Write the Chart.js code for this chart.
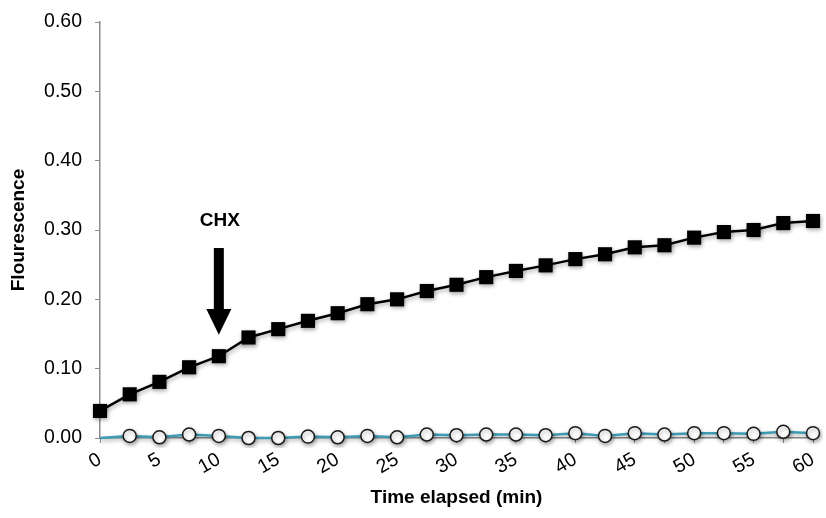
<!DOCTYPE html>
<html>
<head>
<meta charset="utf-8">
<script src="https://cdn.jsdelivr.net/npm/chart.js@4"></script>
<style>
  html, body { margin: 0; padding: 0; background: #fff; }
  #wrap { width: 826px; height: 518px; }
</style>
</head>
<body>
<div id="wrap"><canvas id="fluoChart"></canvas></div>
<script>
// Zeitpunkte (min), alle 2.5 min gemessen
const times = ['0', '2.5', '5', '7.5', '10', '12.5', '15', '17.5', '20', '22.5', '25', '27.5', '30',
               '32.5', '35', '37.5', '40', '42.5', '45', '47.5', '50', '52.5', '55', '57.5', '60'];

// schwarze Quadrate
const treated = [0.039, 0.063, 0.081, 0.102, 0.118, 0.145, 0.157, 0.169, 0.180, 0.193, 0.200, 0.212, 0.221,
                 0.232, 0.241, 0.249, 0.258, 0.265, 0.275, 0.278, 0.289, 0.297, 0.300, 0.310, 0.313];

// offene Kreise (Kontrolle)
const control = [0.000, 0.003, 0.001, 0.005, 0.003, 0.000, 0.000, 0.002, 0.001, 0.003, 0.001, 0.005, 0.004,
                 0.005, 0.005, 0.004, 0.007, 0.003, 0.007, 0.005, 0.007, 0.007, 0.006, 0.009, 0.007];

// CHX-Zugabe bei 10 min (Index 4)
const chxIndex = 4;
const chxLabel = 'CHX';
const chxText = 0.313, chxTop = 0.274, chxHead = 0.186, chxTip = 0.149;

const axisGray = '#8c8c8c';
const fontFam = '"Liberation Sans", Arial, sans-serif';

// Schatten wie in Excel
const shadowPlugin = {
    id: 'shadow',
    beforeDatasetDraw(chart) {
        const ctx = chart.ctx;
        ctx.save();
        ctx.shadowColor = 'rgba(0,0,0,0.35)';
        ctx.shadowBlur = 4;
        ctx.shadowOffsetX = 1;
        ctx.shadowOffsetY = 2;
    },
    afterDatasetDraw(chart) {
        chart.ctx.restore();
    }
};

// Pfeil und Beschriftung
const arrowPlugin = {
    id: 'chxArrow',
    afterDatasetsDraw(chart) {
        const ctx = chart.ctx;
        const x = chart.scales.x.getPixelForValue(chxIndex);
        const yS = chart.scales.y;
        const top = yS.getPixelForValue(chxTop);
        const head = yS.getPixelForValue(chxHead);
        const tip = yS.getPixelForValue(chxTip);
        ctx.save();
        ctx.fillStyle = '#000';
        ctx.fillRect(x - 5, top, 10, head - top + 1);
        ctx.beginPath();
        ctx.moveTo(x - 12.5, head);
        ctx.lineTo(x + 12.5, head);
        ctx.lineTo(x, tip);
        ctx.closePath();
        ctx.fill();
        ctx.font = 'bold 19px ' + fontFam;
        ctx.textAlign = 'center';
        ctx.textBaseline = 'middle';
        ctx.fillText(chxLabel, x + 1, yS.getPixelForValue(chxText));
        ctx.restore();
    }
};

const ctx = document.getElementById('fluoChart').getContext('2d');
new Chart(ctx, {
    type: 'line',
    data: {
        labels: times,
        datasets: [
            {
                label: 'Kontrolle',
                data: control,
                borderColor: '#3f9bb4',
                borderWidth: 2.5,
                pointStyle: 'circle',
                pointRadius: control.map((v, i) => i === 0 ? 0 : 6.5),
                pointBackgroundColor: '#fff',
                pointBorderColor: '#1a1a1a',
                pointBorderWidth: 1.5,
                tension: 0,
                clip: 10
            },
            {
                label: 'CHX',
                data: treated,
                borderColor: '#000',
                borderWidth: 2.5,
                pointStyle: 'rect',
                pointRadius: 10,
                pointBackgroundColor: '#000',
                pointBorderColor: '#000',
                pointBorderWidth: 0,
                tension: 0,
                clip: 12
            }
        ]
    },
    options: {
        responsive: true,
        maintainAspectRatio: false,
        animation: false,
        layout: { padding: { top: 22, right: 13, left: 0, bottom: 0 } },
        plugins: {
            legend: { display: false },
            tooltip: { enabled: false }
        },
        scales: {
            x: {
                offset: false,
                afterFit(scale) {
                    scale.height = 80;
                    scale.paddingLeft = 0;
                    scale.paddingRight = 0;
                },
                grid: {
                    drawOnChartArea: false,
                    drawTicks: true,
                    tickLength: 5,
                    color: axisGray
                },
                border: { color: axisGray, width: 1.5 },
                ticks: {
                    autoSkip: false,
                    minRotation: 30,
                    maxRotation: 30,
                    color: '#000',
                    padding: 5,
                    font: { family: fontFam, size: 19.5 },
                    callback: (v, i) => i % 2 ? '' : times[i]
                },
                title: {
                    display: true,
                    text: 'Time elapsed (min)',
                    color: '#000',
                    padding: { top: 4, bottom: 9 },
                    font: { family: fontFam, size: 19, weight: 'bold' }
                }
            },
            y: {
                min: 0,
                max: 0.6,
                afterFit(scale) {
                    scale.width = 100;
                    scale.paddingTop = 0;
                    scale.paddingBottom = 0;
                },
                grid: {
                    drawOnChartArea: false,
                    drawTicks: true,
                    tickLength: 5,
                    color: axisGray
                },
                border: { color: axisGray, width: 1.5 },
                ticks: {
                    stepSize: 0.1,
                    color: '#000',
                    padding: 13,
                    font: { family: fontFam, size: 19.5 },
                    callback: v => v.toFixed(2)
                },
                title: {
                    display: true,
                    text: 'Flourescence',
                    color: '#000',
                    padding: { top: 7, bottom: 0 },
                    font: { family: fontFam, size: 19, weight: 'bold' }
                }
            }
        }
    },
    plugins: [shadowPlugin, arrowPlugin]
});
</script>
</body>
</html>
